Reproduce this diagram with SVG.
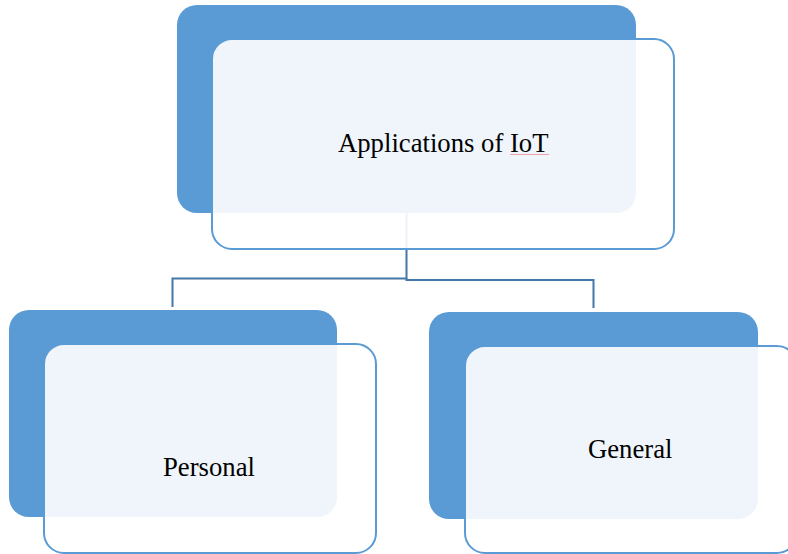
<svg xmlns="http://www.w3.org/2000/svg" width="788" height="554" viewBox="0 0 788 554">
<style>
.back{fill:#5b9bd5;}
.front{fill:#ffffff;fill-opacity:0.9;stroke:#5b9bd5;stroke-width:2;}
.lbl{font-family:"Liberation Serif","Times New Roman",serif;font-size:26.7px;fill:#000000;}
.conn{fill:none;stroke:#4577a8;stroke-width:2;}
</style>
<rect width="788" height="554" fill="#ffffff"/>
<g id="back-layer">
<rect class="back" x="177" y="5" width="459" height="208" rx="20"/>
<rect class="back" x="9" y="310" width="328" height="207" rx="20"/>
<rect class="back" x="429" y="312" width="329" height="207" rx="20"/>
</g>
<g id="connectors">
<path class="conn" d="M406.5 213 V278.5 H172.5 V307"/>
<path class="conn" d="M406.5 278.5 V280 H593.5 V308"/>
</g>
<g id="node-applications">
<rect class="front" x="212" y="39" width="462" height="210" rx="20"/>
<text class="lbl" x="338" y="152">Applications of IoT</text>
<path d="M510 154.5 H549" stroke="#f0a0a8" stroke-width="1" fill="none"/>
</g>
<g id="node-personal">
<rect class="front" x="44" y="344" width="332" height="209" rx="20"/>
<text class="lbl" x="163" y="476">Personal</text>
</g>
<g id="node-general">
<rect class="front" x="465" y="346" width="332" height="207" rx="20"/>
<text class="lbl" x="588" y="458">General</text>
</g>
</svg>
